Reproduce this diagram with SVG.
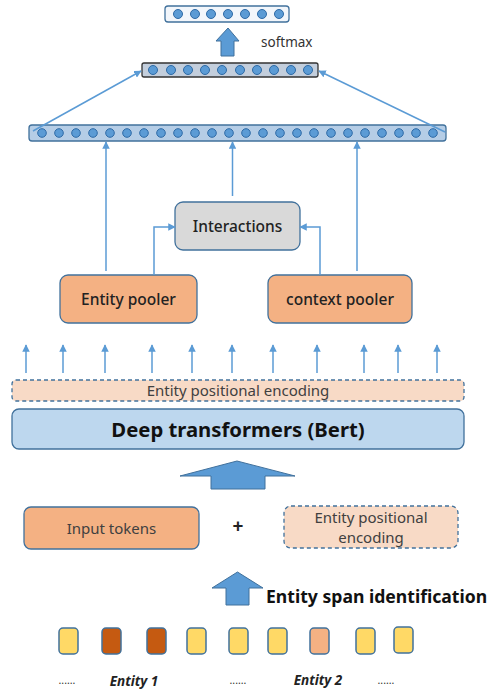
<svg xmlns="http://www.w3.org/2000/svg" width="494" height="690" viewBox="0 0 494 690">
<defs>
<marker id="ah" viewBox="0 0 10 10" refX="9" refY="5" markerWidth="5" markerHeight="5" markerUnits="strokeWidth" orient="auto">
<path d="M0,0 L10,5 L0,10 z" fill="#5b9bd5"/>
</marker>
</defs>
<style>
text{font-family:"Noto Sans","Open Sans","Liberation Sans",sans-serif;}
.ln{stroke:#5b9bd5;stroke-width:1.5;fill:none;marker-end:url(#ah);}
.dot{fill:#5b9bd5;stroke:#2e6aa6;stroke-width:1;}
.box{stroke:#41719c;stroke-width:1.3;}
.dash{stroke:#41719c;stroke-width:1.3;stroke-dasharray:4 3;fill:#f8dac6;}
.blk{fill:#5b9bd5;stroke:#41719c;stroke-width:1;}
.tok{stroke:#41719c;stroke-width:1.5;}
.lbl{font-size:15.5px;fill:#222;text-anchor:middle;}
</style>

<g id="output-bar">
<rect x="165" y="6" width="124" height="16" rx="3" fill="#f2f6fb" stroke="#41719c" stroke-width="1.3"/>
<circle class="dot" cx="178" cy="14" r="4.5"/>
<circle class="dot" cx="195" cy="14" r="4.5"/>
<circle class="dot" cx="211" cy="14" r="4.5"/>
<circle class="dot" cx="228" cy="14" r="4.5"/>
<circle class="dot" cx="245" cy="14" r="4.5"/>
<circle class="dot" cx="262" cy="14" r="4.5"/>
<circle class="dot" cx="279" cy="14" r="4.5"/>
</g>

<g id="softmax-arrow">
<path class="blk" d="M228,28 L239,41 L234,41 L234,56 L221,56 L221,41 L216,41 z"/>
<text x="261" y="47" font-size="13.5" fill="#333">softmax</text>
</g>

<g id="pooled-bar">
<rect x="142" y="63" width="176" height="14" rx="2" fill="#c3cedc" stroke="#333" stroke-width="1.3"/>
<circle class="dot" cx="153" cy="70" r="4.5"/>
<circle class="dot" cx="171" cy="70" r="4.5"/>
<circle class="dot" cx="188" cy="70" r="4.5"/>
<circle class="dot" cx="205" cy="70" r="4.5"/>
<circle class="dot" cx="222" cy="70" r="4.5"/>
<circle class="dot" cx="240" cy="70" r="4.5"/>
<circle class="dot" cx="257" cy="70" r="4.5"/>
<circle class="dot" cx="274" cy="70" r="4.5"/>
<circle class="dot" cx="291" cy="70" r="4.5"/>
<circle class="dot" cx="308" cy="70" r="4.5"/>
</g>

<g id="concat-bar">
<rect x="29" y="125" width="417" height="16" rx="3" fill="#b5cde6" stroke="#41719c" stroke-width="1.3"/>
<g class="dot">
<circle cx="42" cy="133" r="4.3"/><circle cx="59" cy="133" r="4.3"/><circle cx="76" cy="133" r="4.3"/><circle cx="93" cy="133" r="4.3"/>
<circle cx="110" cy="133" r="4.3"/><circle cx="127" cy="133" r="4.3"/><circle cx="144" cy="133" r="4.3"/><circle cx="161" cy="133" r="4.3"/>
<circle cx="178" cy="133" r="4.3"/><circle cx="195" cy="133" r="4.3"/><circle cx="212" cy="133" r="4.3"/><circle cx="229" cy="133" r="4.3"/>
<circle cx="246" cy="133" r="4.3"/><circle cx="263" cy="133" r="4.3"/><circle cx="280" cy="133" r="4.3"/><circle cx="297" cy="133" r="4.3"/>
<circle cx="314" cy="133" r="4.3"/><circle cx="331" cy="133" r="4.3"/><circle cx="348" cy="133" r="4.3"/><circle cx="365" cy="133" r="4.3"/>
<circle cx="382" cy="133" r="4.3"/><circle cx="399" cy="133" r="4.3"/><circle cx="416" cy="133" r="4.3"/><circle cx="433" cy="133" r="4.3"/>
</g>
</g>

<g id="interactions">
<rect class="box" x="175" y="202" width="125" height="48" rx="8" fill="#d9d9d9"/>
<text class="lbl" x="237.5" y="231.5" font-weight="500">Interactions</text>
</g>

<g id="entity-pooler">
<rect class="box" x="60" y="275" width="137" height="48" rx="8" fill="#f4b183"/>
<text class="lbl" x="128.5" y="305" font-weight="500">Entity pooler</text>
</g>

<g id="context-pooler">
<rect class="box" x="268" y="275" width="144" height="48" rx="8" fill="#f4b183"/>
<text class="lbl" x="340" y="305" font-weight="500">context pooler</text>
</g>

<g id="entity-positional-encoding-bar">
<rect class="dash" x="12" y="380" width="452" height="21" rx="4"/>
<text x="238" y="396" font-size="15" fill="#404040" text-anchor="middle">Entity positional encoding</text>
</g>

<g id="bert">
<rect class="box" x="12" y="409" width="452" height="40" rx="7" fill="#bdd7ee"/>
<text x="238" y="437" font-size="20.3" font-weight="bold" fill="#111" text-anchor="middle">Deep transformers (Bert)</text>
</g>

<g id="big-arrow">
<path class="blk" d="M237,461 L295,476 L265,476 L265,489 L211,489 L211,476 L180,476 z"/>
</g>

<g id="input-tokens">
<rect class="box" x="24" y="507" width="175" height="42" rx="7" fill="#f4b183"/>
<text x="111.5" y="534" font-size="15" fill="#404040" text-anchor="middle">Input tokens</text>
</g>

<g id="plus">
<text x="238" y="533" font-size="19" font-weight="bold" fill="#222" text-anchor="middle">+</text>
</g>

<g id="entity-positional-encoding">
<rect class="dash" x="284" y="506" width="174" height="42" rx="7"/>
<text x="371" y="523" font-size="15" fill="#404040" text-anchor="middle">Entity positional</text>
<text x="371" y="543" font-size="15" fill="#404040" text-anchor="middle">encoding</text>
</g>

<g id="span-arrow">
<path class="blk" d="M237.5,572 L263,588 L249,588 L249,605 L226,605 L226,588 L212,588 z"/>
<text x="266" y="603" font-size="17.6" font-weight="bold" fill="#111">Entity span identification</text>
</g>

<g id="tokens">
<rect class="tok" x="59" y="628" width="19" height="26" rx="4" fill="#ffd966"/>
<rect class="tok" x="102" y="628" width="19" height="26" rx="4" fill="#c55a11"/>
<rect class="tok" x="147" y="628" width="19" height="26" rx="4" fill="#c55a11"/>
<rect class="tok" x="187" y="628" width="19" height="26" rx="4" fill="#ffd966"/>
<rect class="tok" x="229" y="628" width="19" height="26" rx="4" fill="#ffd966"/>
<rect class="tok" x="268" y="628" width="19" height="26" rx="4" fill="#ffd966"/>
<rect class="tok" x="310" y="628" width="19" height="26" rx="4" fill="#f4b183"/>
<rect class="tok" x="356" y="628" width="19" height="26" rx="4" fill="#ffd966"/>
<rect class="tok" x="394" y="627" width="19" height="26" rx="4" fill="#ffd966"/>
</g>

<g id="token-labels">
<text x="67" y="684" font-size="10.5" fill="#333" text-anchor="middle">......</text>
<text x="134" y="686" font-size="13.5" font-weight="bold" font-style="italic" fill="#222" text-anchor="middle">Entity 1</text>
<text x="238" y="684" font-size="10.5" fill="#333" text-anchor="middle">......</text>
<text x="318" y="685" font-size="13.5" font-weight="bold" font-style="italic" fill="#222" text-anchor="middle">Entity 2</text>
<text x="386" y="684" font-size="10.5" fill="#333" text-anchor="middle">......</text>
</g>

<g id="connectors">
<line class="ln" x1="33" y1="131" x2="141" y2="71"/>
<line class="ln" x1="445" y1="132" x2="319" y2="71"/>
<line class="ln" x1="106" y1="271" x2="106" y2="142"/>
<line class="ln" x1="232.5" y1="196" x2="232.5" y2="142"/>
<line class="ln" x1="357" y1="271" x2="357" y2="142"/>
<polyline class="ln" points="154,275 154,227 175,227"/>
<polyline class="ln" points="320,275 320,227 300,227"/>
<line class="ln" x1="26" y1="373" x2="26" y2="345"/>
<line class="ln" x1="63" y1="373" x2="63" y2="345"/>
<line class="ln" x1="105" y1="373" x2="105" y2="345"/>
<line class="ln" x1="152" y1="373" x2="152" y2="345"/>
<line class="ln" x1="192" y1="373" x2="192" y2="345"/>
<line class="ln" x1="232" y1="373" x2="232" y2="345"/>
<line class="ln" x1="273" y1="373" x2="273" y2="345"/>
<line class="ln" x1="317" y1="373" x2="317" y2="345"/>
<line class="ln" x1="364" y1="373" x2="364" y2="345"/>
<line class="ln" x1="398" y1="373" x2="398" y2="345"/>
<line class="ln" x1="437" y1="373" x2="437" y2="345"/>
</g>
</svg>
